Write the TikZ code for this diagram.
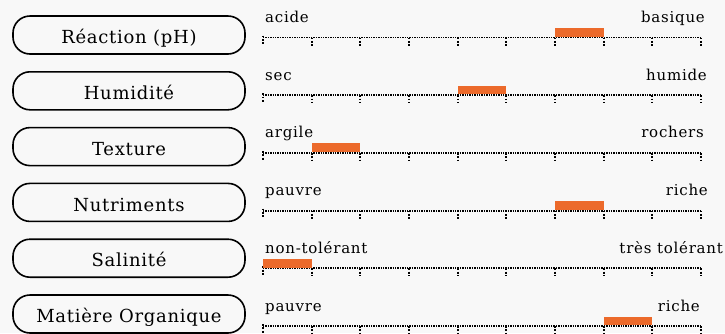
\documentclass[tikz,border=0pt]{standalone}
\usepackage{fontspec}
\setmainfont{DejaVu Serif}
\newfontfamily\labfont[LetterSpace=5]{DejaVu Serif}
\newfontfamily\boxfont[LetterSpace=4]{DejaVu Serif}
\usetikzlibrary{calc}
\definecolor{barorange}{RGB}{236,106,43}
\definecolor{bgc}{RGB}{248,248,248}
\begin{document}
\begin{tikzpicture}[x=1pt,y=-1pt,
  catbox/.style={draw, line width=1.6pt, rounded corners=17pt, minimum width=232pt,
    minimum height=38pt, inner sep=0pt, font=\boxfont\fontsize{18}{21}\selectfont,
    text height=17.4pt, text depth=0pt},
  scaleline/.style={line width=1.8pt, dash pattern=on 1.4pt off 1.0pt},
  tickmark/.style={line width=1.8pt, dash pattern=on 1.8pt off 1.6pt},
  endlabel/.style={font=\labfont\fontsize{15}{18}\selectfont, inner sep=0pt},
  level/.style={fill=barorange}]
\fill[bgc] (0,0) rectangle (725,333);
\useasboundingbox (0,0) rectangle (725,333);
\foreach \i/\cat/\lo/\hi/\hx/\b in {
  0/{Réaction (pH)}/acide/basique/705/6,
  1/Humidité/sec/humide/707/4,
  2/Texture/argile/rochers/704/1,
  3/Nutriments/pauvre/riche/708/6,
  4/Salinité/non-tolérant/très tolérant/723/0,
  5/Matière Organique/pauvre/riche/700/7}{
  \pgfmathsetmacro\by{35+55.8*\i}
  \pgfmathsetmacro\ly{37.5+57.7*\i}
  \node[catbox] (cat\i) at (129,\by) {\cat};
  \coordinate (s\i) at (263,\ly);
  \coordinate (e\i) at (701,\ly);
  \draw[scaleline] (s\i) -- (e\i);
  \draw[tickmark] ($(s\i)+(0,-2)$) -- ++(0,10);
  \foreach \k in {1,...,9} {\draw[tickmark] ($(s\i)+(48.67*\k,0)$) -- ++(0,8);}
  \fill[level] ($(s\i)+(48.67*\b,-9.5)$) rectangle ($(s\i)+(48.67*\b+48.67,-0.8)$);
  \node[endlabel, anchor=base west] (lo\i) at (265,{\ly-15}) {\lo};
  \node[endlabel, anchor=base east] (hi\i) at (\hx,{\ly-15}) {\hi};
}
\end{tikzpicture}
\end{document}
